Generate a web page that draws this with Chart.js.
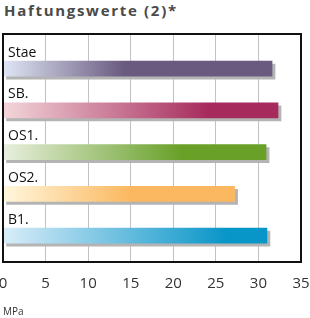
<!DOCTYPE html>
<html><head><meta charset="utf-8">
<script src="https://cdn.jsdelivr.net/npm/chart.js@4/dist/chart.umd.min.js"></script>
<style>
html,body{margin:0;padding:0;background:#fff;}
#wrap{position:relative;width:310px;height:318px;}
#title{position:absolute;left:4px;top:0px;font:bold 15px "Open Sans",sans-serif;letter-spacing:1.7px;color:#4a4a4a;}
canvas{position:absolute;left:0;top:0;}
</style></head>
<body><div id="wrap"><div id="title">Haftungswerte (2)*</div><canvas id="c" width="310" height="318"></canvas></div>
<script>
const categories = ["Stae", "SB.", "OS1.", "OS2.", "B1."];
const values = [31.6, 32.3, 30.9, 27.2, 31.0];
const tickValues = [0, 5, 10, 15, 20, 25, 30, 35];
const unitLabel = "MPa";
const titleText = "Haftungswerte (2)*";

const gradStart = ["#dfe6f4", "#f3d6da", "#e9efdf", "#fff7dd", "#d9edf9"];
const gradEnd   = ["#6a5a80", "#a62a5c", "#68a028", "#fbb860", "#0895c8"];
const gradMid   = [0.45, 0.75, 0.68, 0.55, 0.85];

function barColor(ctx){
  const chart = ctx.chart; const ca = chart.chartArea;
  if(!ca) return gradEnd[ctx.dataIndex];
  const i = ctx.dataIndex;
  const xEnd = chart.scales.x.getPixelForValue(values[i]);
  const g = chart.ctx.createLinearGradient(ca.left, 0, xEnd, 0);
  g.addColorStop(0, gradStart[i]);
  g.addColorStop(gradMid[i], gradEnd[i]);
  g.addColorStop(1, gradEnd[i]);
  return g;
}

const shadowPlugin = {
  id:'shadow',
  beforeDatasetDraw(chart){ const c=chart.ctx; c.save(); c.shadowColor='#b4b4b4'; c.shadowOffsetX=3; c.shadowOffsetY=3; c.shadowBlur=0; },
  afterDatasetDraw(chart){ chart.ctx.restore(); }
};
const framePlugin = {
  id:'frame',
  afterDraw(chart){
    const c=chart.ctx, ca=chart.chartArea, y=chart.scales.y;
    c.save();
    c.font='14px "Open Sans", sans-serif'; c.fillStyle='#111'; c.textBaseline='middle';
    categories.forEach((lab,i)=>{ c.fillText(lab, ca.left+5, y.getPixelForValue(i)-16); });
    c.strokeStyle='#111'; c.lineWidth=2;
    c.strokeRect(ca.left, ca.top, ca.right-ca.left, ca.bottom-ca.top);
    c.restore();
  }
};

new Chart(document.getElementById('c'), {
  type:'bar',
  data:{ datasets:[{
    data: values.map((v,i)=>({x:v, y:i})),
    backgroundColor: barColor,
    borderWidth:0,
    barThickness:15
  }]},
  options:{
    indexAxis:'y', responsive:false, animation:false,
    layout:{ autoPadding:false, padding:{ top:34, left:3, right:9, bottom:0 } },
    plugins:{ legend:{display:false}, tooltip:{enabled:false} },
    scales:{
      x:{ type:'linear', min:0, max:35, offset:false,
          afterBuildTicks(s){ s.ticks = tickValues.map(v=>({value:v})); },
          afterFit(s){ s.paddingLeft = 0; s.paddingRight = 0; },
          grid:{ color:'#c2c2c2', lineWidth:1, drawTicks:false },
          border:{ display:false },
          ticks:{ color:'#333', font:{ family:'"Open Sans", sans-serif', size:15 }, padding:13, maxRotation:0 },
          title:{ display:true, text:unitLabel, align:'start', color:'#333', font:{ family:'"Open Sans", sans-serif', size:10 }, padding:{top:0,bottom:0} }
      },
      y:{ type:'linear', reverse:true, min:-0.83, max:4.63, display:false, offset:false,
          grid:{display:false} }
    }
  },
  plugins:[shadowPlugin, framePlugin]
});
</script></body></html>
